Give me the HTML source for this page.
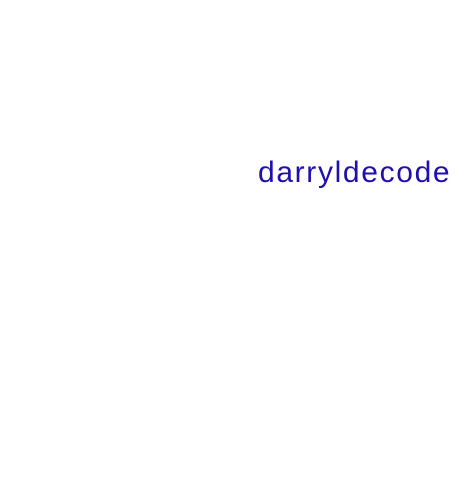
<!DOCTYPE html>
<html><head><style>
html,body{margin:0;padding:0;background:#fff;width:471px;height:493px;overflow:hidden}
.t{position:absolute;left:258px;top:153px;font-family:"Liberation Sans",sans-serif;font-size:30px;letter-spacing:1.65px;line-height:40px;color:#1f0fad;white-space:nowrap}
</style></head><body>
<div class="t">darryldecode</div>
</body></html>
